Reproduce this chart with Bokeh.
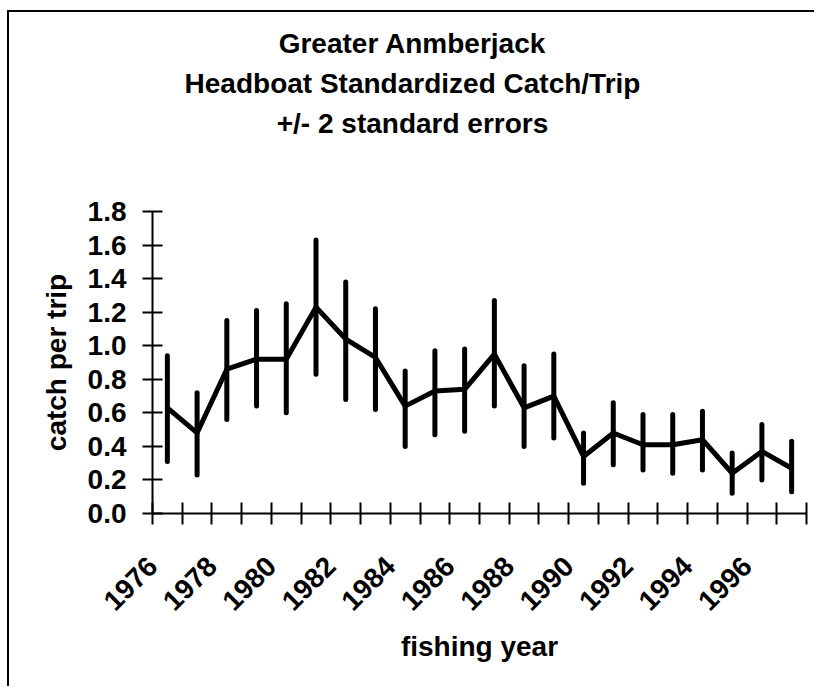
from bokeh.plotting import figure
from bokeh.layouts import column
from bokeh.models import Range1d, FixedTicker, PrintfTickFormatter
from bokeh.core.properties import value
from bokeh.embed import file_html
from bokeh.resources import INLINE
import math

# ---- data ----
years = list(range(1976, 1998))
cpue = [0.63, 0.48, 0.86, 0.92, 0.92, 1.23, 1.04, 0.93, 0.64, 0.73,
        0.74, 0.95, 0.63, 0.70, 0.34, 0.48, 0.41, 0.41, 0.44, 0.24,
        0.37, 0.27]
upper = [0.94, 0.72, 1.15, 1.21, 1.25, 1.63, 1.38, 1.22, 0.85, 0.97,
         0.98, 1.27, 0.88, 0.95, 0.48, 0.66, 0.59, 0.59, 0.61, 0.36,
         0.53, 0.43]
lower = [0.31, 0.23, 0.56, 0.64, 0.60, 0.83, 0.68, 0.62, 0.40, 0.47,
         0.49, 0.64, 0.40, 0.45, 0.18, 0.29, 0.26, 0.24, 0.26, 0.12,
         0.20, 0.13]
label_years = [1976, 1978, 1980, 1982, 1984, 1986, 1988, 1990, 1992, 1994, 1996]
y_ticks = [0.0, 0.2, 0.4, 0.6, 0.8, 1.0, 1.2, 1.4, 1.6, 1.8]
title_lines = ["Greater Anmberjack", "Headboat Standardized Catch/Trip", "+/- 2 standard errors"]

FONT = "Liberation Sans"
FS = "28px"
W = 807
TH = 179   # title band height
MH = 497   # chart band height
BL, BR = 143, 10  # left / right borders of the chart frame
TCX = 403  # horizontal centre of the title block

# ---- title band (same frame borders as the chart so both line up) ----
t = figure(width=W, height=TH, output_backend="svg", toolbar_location=None,
           x_range=Range1d(BL, W - BR), y_range=Range1d(TH, 0),
           min_border_left=BL, min_border_right=BR,
           min_border_top=0, min_border_bottom=0,
           x_axis_type=None, y_axis_type=None)
t.outline_line_color = None
t.xgrid.visible = False
t.ygrid.visible = False
t.text(x=[TCX] * 3, y=[31, 71, 111], text=title_lines,
       text_align="center", text_baseline="middle",
       text_font=value(FONT), text_font_style="bold",
       text_font_size=value(FS), text_color="black")

# ---- chart ----
p = figure(width=W, height=MH, output_backend="svg", toolbar_location=None,
           x_range=Range1d(years[0] - 0.5, years[-1] + 0.5),
           y_range=Range1d(0, 1.8),
           min_border_left=BL, min_border_right=BR,
           min_border_top=20, min_border_bottom=175)
p.outline_line_color = None
p.xgrid.visible = False
p.ygrid.visible = False

p.segment(x0=years, y0=lower, x1=years, y1=upper, line_width=5,
          line_color="black", line_cap="round")
p.line(years, cpue, line_width=5, line_color="black", line_join="round")

# x axis: ticks at category boundaries, labels every other year
bounds = [years[0] - 0.5 + i for i in range(len(years) + 1)]
lab_pos = [y - 0.5 for y in label_years]
xa = p.xaxis[0]
xa.ticker = FixedTicker(ticks=lab_pos, minor_ticks=bounds)
xa.major_label_overrides = {pos: str(y) for pos, y in zip(lab_pos, label_years)}
xa.major_tick_in = 0
xa.major_tick_out = 0
xa.minor_tick_in = 11
xa.minor_tick_out = 11
xa.minor_tick_line_width = 2
xa.minor_tick_line_color = "black"
xa.axis_line_width = 2
xa.axis_line_color = "black"
xa.major_label_orientation = math.pi / 4
xa.major_label_standoff = 37
xa.major_label_text_font = FONT
xa.major_label_text_font_style = "bold"
xa.major_label_text_font_size = FS
xa.major_label_text_color = "black"
xa.axis_label = "fishing year"
xa.axis_label_text_font = FONT
xa.axis_label_text_font_style = "bold"
xa.axis_label_text_font_size = FS
xa.axis_label_text_color = "black"
xa.axis_label_standoff = 9

ya = p.yaxis[0]
ya.ticker = FixedTicker(ticks=y_ticks)
ya.formatter = PrintfTickFormatter(format="%.1f")
ya.major_tick_in = 10
ya.major_tick_out = 10
ya.major_tick_line_width = 2
ya.major_tick_line_color = "black"
ya.minor_tick_line_color = None
ya.axis_line_width = 2
ya.axis_line_color = "black"
ya.major_label_standoff = 16
ya.major_label_text_font = FONT
ya.major_label_text_font_style = "bold"
ya.major_label_text_font_size = FS
ya.major_label_text_color = "black"
ya.axis_label = "catch per trip"
ya.axis_label_text_font = FONT
ya.axis_label_text_font_style = "bold"
ya.axis_label_text_font_size = FS
ya.axis_label_text_color = "black"
ya.axis_label_standoff = 13

# chart-area frame: left and top edges only (the rest lies outside the page)
layout = column(t, p, spacing=0, margin=(12, 0, 0, 9),
                styles={"box-shadow": "-2px -2px 0 0 black"})

open("out.html", "w").write(file_html(layout, INLINE))
